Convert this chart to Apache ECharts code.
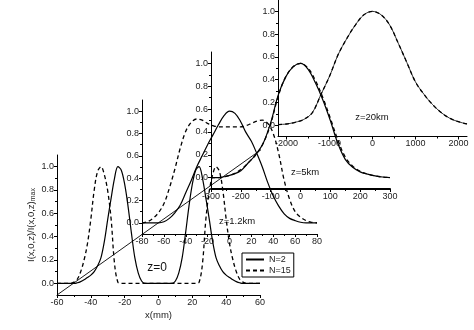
<!DOCTYPE html>
<html><head><meta charset="utf-8">
<script src="https://cdn.jsdelivr.net/npm/echarts@6/dist/echarts.min.js"></script>
<style>html,body{margin:0;padding:0;background:#fff}#c{width:474px;height:330px}</style>
</head><body><div id="c"></div>
<script>
// ---- data ----
// panel 1 : z = 0, x in mm
const p1X = [-60,-58,-56,-54,-52,-50,-48,-46,-44,-42,-40,-38,-36,-34,-32,-30,-28,-26,-24,-22,-20,-18,-16,-14,-12,-10,-8,-6,-4,-2,0,2,4,6,8,10,12,14,16,18,20,22,24,26,28,30,32,34,36,38,40,42,44,46,48,50,52,54,56,58,60];
const p1N2 = [0,0,0,0,0,0,0.005,0.015,0.03,0.05,0.07,0.1,0.15,0.22,0.36,0.55,0.73,0.9,1.0,0.97,0.85,0.66,0.43,0.22,0.09,0.02,0,0,0,0,0,0,0,0,0,0.02,0.09,0.22,0.43,0.66,0.85,0.97,1.0,0.9,0.73,0.55,0.36,0.22,0.15,0.1,0.07,0.05,0.03,0.015,0.005,0,0,0,0,0,0];
const p1N15 = [0,0,0,0,0,0.01,0.035,0.1,0.2,0.34,0.55,0.8,0.96,1.0,0.93,0.79,0.55,0.17,0.01,0,0,0,0,0,0,0,0,0,0,0,0,0,0,0,0,0,0,0,0,0,0,0,0.01,0.17,0.55,0.79,0.93,1.0,0.96,0.8,0.55,0.34,0.2,0.1,0.035,0.01,0,0,0,0,0];
// panel 2 : z = 1.2 km
const p2X = [-80,-75,-70,-65,-60,-55,-50,-45,-40,-35,-30,-25,-20,-15,-10,-5,0,5,10,15,20,25,30,35,40,45,50,55,60,65,70,75,80];
const p2N2 = [0,0,0,0,0.01,0.04,0.09,0.16,0.27,0.38,0.5,0.6,0.7,0.79,0.88,0.96,1.0,0.98,0.91,0.81,0.73,0.62,0.5,0.36,0.24,0.15,0.08,0.04,0.02,0.005,0,0,0];
const p2N15 = [0,0.01,0.04,0.09,0.17,0.31,0.48,0.67,0.82,0.9,0.93,0.92,0.89,0.87,0.86,0.86,0.86,0.86,0.86,0.87,0.89,0.91,0.92,0.89,0.8,0.62,0.38,0.21,0.1,0.05,0.02,0.005,0];
// panel 3 : z = 5 km
const p3X = [-300,-275,-250,-225,-200,-175,-150,-125,-100,-75,-50,-25,0,25,50,75,100,125,150,175,200,225,250,275,300];
const p3N2 = [0,0,0.01,0.03,0.06,0.13,0.2,0.3,0.48,0.72,0.88,0.97,1.0,0.95,0.83,0.68,0.5,0.3,0.16,0.09,0.05,0.03,0.015,0.005,0];
const p3N15 = [0,0,0.01,0.03,0.07,0.13,0.2,0.3,0.47,0.71,0.88,0.97,1.0,0.96,0.85,0.7,0.52,0.33,0.18,0.1,0.055,0.03,0.015,0.005,0];
// panel 4 : z = 20 km
const p4X = [-2200,-2000,-1800,-1600,-1400,-1200,-1000,-800,-600,-400,-200,0,200,400,600,800,1000,1200,1400,1600,1800,2000,2200];
const p4N2 = [0.005,0.01,0.025,0.05,0.11,0.27,0.43,0.62,0.76,0.88,0.97,1.0,0.97,0.88,0.72,0.55,0.38,0.27,0.18,0.11,0.06,0.03,0.01];
const p4N15 = [0.005,0.01,0.025,0.05,0.11,0.27,0.43,0.62,0.76,0.88,0.97,1.0,0.97,0.88,0.72,0.55,0.38,0.27,0.18,0.11,0.06,0.03,0.01];
// guide line through the panel corners (panel-1 coordinates)
const guideX = [-60, 144];
const guideY = [-0.1, 2.006];
// ticks
const p1Ticks = [-60,-40,-20,0,20,40,60];
const p1Minor = [-50,-30,-10,10,30,50];
const p2Ticks = [-80,-60,-40,-20,0,20,40,60,80];
const p2Minor = [-70,-50,-30,-10,10,30,50,70];
const p3Ticks = [-300,-200,-100,0,100,200,300];
const p3Minor = [-250,-150,-50,50,150,250];
const p4Ticks = [-2000,-1000,0,1000,2000];
const p4Minor = [-1500,-500,500,1500];
const yTicks = [0,0.2,0.4,0.6,0.8,1.0];
const yMinor = [0.1,0.3,0.5,0.7,0.9];
const panelLabels = ['z=0','z=1.2km','z=5km','z=20km'];

// ---- chart ----
const FONT = 'Liberation Sans, Arial, sans-serif';
const TXT = '#222';
const grids = [
  {left:57, top:155, width:203, height:140},
  {left:142, top:100, width:175, height:134},
  {left:211, top:52, width:179, height:137},
  {left:278, top:0, width:189, height:136.5}
];
const xr = [[-60,60],[-80,80],[-300,300],[-2200,2200]];
const xt = [[p1Ticks,p1Minor],[p2Ticks,p2Minor],[p3Ticks,p3Minor],[p4Ticks,p4Minor]];
const xAxes = [], yAxes = [];
grids.forEach((g,i)=>{
  xAxes.push({gridIndex:i,type:'value',position:'bottom',min:xr[i][0],max:xr[i][1],
    axisLine:{show:true,onZero:false,lineStyle:{color:'#000',width:i===2?2:1}},
    axisTick:{show:true,customValues:xt[i][0],length:3,lineStyle:{color:'#000'}},
    axisLabel:{customValues:xt[i][0],fontSize:9,color:TXT,fontFamily:FONT,margin:3,formatter:v=>String(v)},
    splitLine:{show:false},
    name: i===0?'x(mm)':'', nameLocation:'middle', nameGap:15,
    nameTextStyle:{fontSize:9.5,color:TXT,fontFamily:FONT}});
  xAxes.push({gridIndex:i,type:'value',position:'bottom',min:xr[i][0],max:xr[i][1],
    axisLine:{show:false,onZero:false},
    axisTick:{show:true,customValues:xt[i][1],length:2,lineStyle:{color:'#000'}},
    axisLabel:{show:false},splitLine:{show:false}});
  yAxes.push({gridIndex:i,type:'value',position:'left',min:-0.1,max:1.1,
    axisLine:{show:true,onZero:false,lineStyle:{color:'#000',width:1}},
    axisTick:{show:true,customValues:yTicks,length:3,lineStyle:{color:'#000'}},
    axisLabel:{customValues:yTicks,fontSize:9,color:TXT,fontFamily:FONT,margin:3,formatter:v=>v.toFixed(1)},
    splitLine:{show:false},
    name: i===0?'{a|I(x,0,z)/I(x,0,z)}{b|max}':'', nameLocation:'middle', nameGap:20,
    nameTextStyle:{color:TXT,fontFamily:FONT,rich:{a:{fontSize:9.5,color:TXT,fontFamily:FONT},b:{fontSize:7,color:TXT,fontFamily:FONT,verticalAlign:'bottom',padding:[4,0,0,0]}}}});
  yAxes.push({gridIndex:i,type:'value',position:'left',min:-0.1,max:1.1,
    axisLine:{show:false,onZero:false},
    axisTick:{show:true,customValues:yMinor,length:2,lineStyle:{color:'#000'}},
    axisLabel:{show:false},splitLine:{show:false}});
});
const zip = (xs,ys)=>xs.map((x,k)=>[x,ys[k]]);
const panels = [[p1X,p1N2,p1N15],[p2X,p2N2,p2N15],[p3X,p3N2,p3N15],[p4X,p4N2,p4N15]];
const series = [];
panels.forEach((p,i)=>{
  series.push({name:'N=2',type:'line',xAxisIndex:2*i,yAxisIndex:2*i,data:zip(p[0],p[1]),
    symbol:'none',smooth:0.35,lineStyle:{color:'#000',width:i===3?0.8:1.2,type:'solid'},itemStyle:{color:'#000'},silent:true});
  series.push({name:'N=15',type:'line',xAxisIndex:2*i,yAxisIndex:2*i,data:zip(p[0],p[2]),
    symbol:'none',smooth:0.35,lineStyle:{color:'#000',width:1.3,type:[4,3]},itemStyle:{color:'#000'},silent:true});
});
series.push({name:'guide',type:'line',xAxisIndex:0,yAxisIndex:0,data:zip(guideX,guideY),clip:false,
  symbol:'none',lineStyle:{color:'#000',width:0.9},silent:true});

const labelPos = [[157,268,12],[237,221,9.5],[305,172,9.5],[372,117,9.5]];
const graphics = panelLabels.map((t,i)=>({type:'text',x:labelPos[i][0],y:labelPos[i][1],
  style:{text:t,fontSize:labelPos[i][2],fontFamily:FONT,fill:'#111',textAlign:'center',textVerticalAlign:'middle'}}));

const chart = echarts.init(document.getElementById('c'),null,{renderer:'canvas'});
chart.setOption({
  animation:false,
  backgroundColor:'#fff',
  grid:grids,
  xAxis:xAxes,
  yAxis:yAxes,
  series:series,
  graphic:graphics,
  legend:{data:['N=2','N=15'],orient:'vertical',left:242,top:253,itemWidth:18,itemHeight:8,itemGap:2,
    padding:[2,3,2,3],borderColor:'#000',borderWidth:1,selectedMode:false,
    itemStyle:{opacity:0},
    textStyle:{fontSize:9,color:TXT,fontFamily:FONT}}
});
</script></body></html>
